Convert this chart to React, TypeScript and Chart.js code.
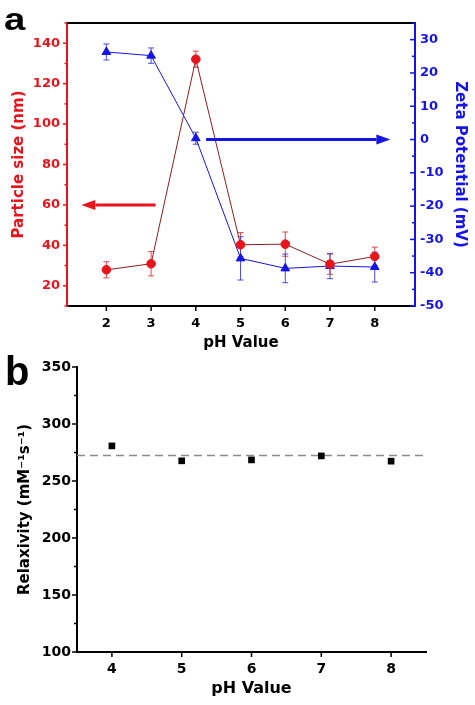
import React, { useEffect, useRef } from 'react';
import { Chart, registerables } from 'chart.js';

Chart.register(...registerables);

// ---------- Panel a data ----------
const pH = [2, 3, 4, 5, 6, 7, 8];
const particleSize = [27.9, 30.9, 132.1, 40.3, 40.6, 30.7, 34.5];
const particleErr = [4, 6, 4, 6, 6, 5, 4.6];
const zetaPotential = [26.3, 25.2, 0.4, -35.7, -38.7, -38.0, -38.3];
const zetaErr = [2.4, 2.3, 1.8, 6.5, 4.3, 3.8, 4.5];
const phTicksA = [2, 3, 4, 5, 6, 7, 8];
const sizeTicks = [20, 40, 60, 80, 100, 120, 140];
const zetaTicks = [-50, -40, -30, -20, -10, 0, 10, 20, 30];
const redArrow = { from: 3.1, to: 1.44, y: 60 };
const blueArrow = { from: 4.23, to: 8.35, y: 0 };

// ---------- Panel b data ----------
const pHb = [4, 5, 6, 7, 8];
const relaxivity = [280.8, 267.7, 268.5, 272.0, 267.4];
const relaxivityMean = 272.3;
const phTicksB = [4, 5, 6, 7, 8];
const relaxTicks = [100, 150, 200, 250, 300, 350];

const FONT = "'DejaVu Sans', sans-serif";
const RED = '#e8141c';
const DARKRED = '#8b1f1f';
const BLUE = '#1414e6';

type TickSpec = {
  id: string;
  edge: 'left' | 'right' | 'bottom';
  dir: 'out' | 'in';
  major: number;
  minor: number;
  color: string;
};

function tickPlugin(specs: TickSpec[]) {
  return {
    id: 'customTicks',
    afterDraw(chart: any) {
      const ctx = chart.ctx;
      const area = chart.chartArea;
      specs.forEach((sp) => {
        const s = chart.scales[sp.id];
        const vals = s.ticks.map((t: any) => t.value);
        const step = vals[1] - vals[0];
        const minors: number[] = [];
        if (sp.minor > 0) {
          for (let v = vals[0] - step / 2; v <= s.max + 1e-9; v += step) {
            if (v >= s.min - 1e-9) minors.push(v);
          }
        }
        ctx.save();
        ctx.strokeStyle = sp.color;
        ctx.lineWidth = 1.5;
        const draw = (v: number, len: number) => {
          const p = s.getPixelForValue(v);
          ctx.beginPath();
          if (sp.edge === 'bottom') {
            const sign = sp.dir === 'out' ? 1 : -1;
            ctx.moveTo(p, area.bottom);
            ctx.lineTo(p, area.bottom + sign * len);
          } else {
            const x = sp.edge === 'left' ? area.left : area.right;
            const outward = sp.edge === 'left' ? -1 : 1;
            const sign = sp.dir === 'out' ? outward : -outward;
            ctx.moveTo(x, p);
            ctx.lineTo(x + sign * len, p);
          }
          ctx.stroke();
        };
        vals.forEach((v: number) => draw(v, sp.major));
        minors.forEach((v) => draw(v, sp.minor));
        ctx.restore();
      });
    },
  };
}

function errorBarPlugin(bars: { index: number; values: number[]; errors: number[]; color: string }[]) {
  return {
    id: 'errorBars',
    beforeDatasetsDraw(chart: any) {
      const ctx = chart.ctx;
      bars.forEach((b) => {
        const meta = chart.getDatasetMeta(b.index);
        const ys = chart.scales[meta.yAxisID];
        ctx.save();
        ctx.strokeStyle = b.color;
        ctx.lineWidth = 1;
        meta.data.forEach((pt: any, j: number) => {
          const x = pt.x;
          const y1 = ys.getPixelForValue(b.values[j] + b.errors[j]);
          const y2 = ys.getPixelForValue(b.values[j] - b.errors[j]);
          ctx.beginPath();
          ctx.moveTo(x, y1);
          ctx.lineTo(x, y2);
          ctx.moveTo(x - 3, y1);
          ctx.lineTo(x + 3, y1);
          ctx.moveTo(x - 3, y2);
          ctx.lineTo(x + 3, y2);
          ctx.stroke();
        });
        ctx.restore();
      });
    },
  };
}

function arrowPlugin(arrows: { from: number; to: number; y: number; axis: string; color: string }[]) {
  return {
    id: 'arrows',
    afterDatasetsDraw(chart: any) {
      const ctx = chart.ctx;
      const xs = chart.scales.x;
      arrows.forEach((a) => {
        const ys = chart.scales[a.axis];
        const x1 = xs.getPixelForValue(a.from);
        const x2 = xs.getPixelForValue(a.to);
        const y = ys.getPixelForValue(a.y);
        const d = x2 > x1 ? 1 : -1;
        const head = 14;
        ctx.save();
        ctx.strokeStyle = a.color;
        ctx.fillStyle = a.color;
        ctx.lineWidth = 3;
        ctx.beginPath();
        ctx.moveTo(x1, y);
        ctx.lineTo(x2 - d * head, y);
        ctx.stroke();
        ctx.beginPath();
        ctx.moveTo(x2, y);
        ctx.lineTo(x2 - d * head, y - 5);
        ctx.lineTo(x2 - d * head, y + 5);
        ctx.closePath();
        ctx.fill();
        ctx.restore();
      });
    },
  };
}

function panelLabel(text: string, x: number, y: number, size: number, sx: number) {
  return {
    id: 'panelLabel',
    afterDraw(chart: any) {
      const ctx = chart.ctx;
      ctx.save();
      ctx.fillStyle = '#000';
      ctx.font = `bold ${size}px 'Liberation Sans', Arial, sans-serif`;
      ctx.textBaseline = 'alphabetic';
      ctx.translate(x, y);
      ctx.scale(sx, 1);
      ctx.fillText(text, 0, 0);
      ctx.restore();
    },
  };
}

const topFrame = {
  id: 'topFrame',
  afterDraw(chart: any) {
    const { ctx, chartArea } = chart;
    ctx.save();
    ctx.strokeStyle = '#000';
    ctx.lineWidth = 2;
    ctx.beginPath();
    ctx.moveTo(chartArea.left, chartArea.top);
    ctx.lineTo(chartArea.right, chartArea.top);
    ctx.stroke();
    ctx.restore();
  },
};

export default function App() {
  const refA = useRef<HTMLCanvasElement>(null);
  const refB = useRef<HTMLCanvasElement>(null);

  useEffect(() => {
    const chartA = new Chart(refA.current as HTMLCanvasElement, {
      type: 'line',
      data: {
        datasets: [
          {
            label: 'Particle size',
            data: pH.map((x, i) => ({ x, y: particleSize[i] })),
            yAxisID: 'y',
            borderColor: DARKRED,
            borderWidth: 1,
            backgroundColor: RED,
            pointBackgroundColor: RED,
            pointBorderColor: RED,
            pointStyle: 'circle',
            pointRadius: 4.3,
            tension: 0,
          },
          {
            label: 'Zeta Potential',
            data: pH.map((x, i) => ({ x, y: zetaPotential[i] })),
            yAxisID: 'y2',
            borderColor: BLUE,
            borderWidth: 1,
            backgroundColor: BLUE,
            pointBackgroundColor: BLUE,
            pointBorderColor: BLUE,
            pointStyle: 'triangle',
            pointRadius: 5,
            tension: 0,
          },
        ],
      },
      options: {
        animation: false,
        responsive: false,
        layout: { padding: { top: 23, left: 0, right: 0, bottom: 0 } },
        plugins: { legend: { display: false }, tooltip: { enabled: false } },
        scales: {
          x: {
            type: 'linear',
            min: 1.12,
            max: 8.9,
            afterBuildTicks: (s: any) => { s.ticks = phTicksA.map((v) => ({ value: v })); },
            afterFit: (s: any) => { s.height = 49; },
            grid: { display: false, drawTicks: false },
            border: { display: true, color: '#000', width: 2 },
            ticks: { color: '#000', font: { family: FONT, weight: 'bold', size: 13 }, padding: 10 },
            title: { display: true, text: 'pH Value', color: '#000', font: { family: FONT, weight: 'bold', size: 15 }, padding: { bottom: 3, top: 0 } },
          },
          y: {
            type: 'linear',
            position: 'left',
            min: 10,
            max: 150,
            afterBuildTicks: (s: any) => { s.ticks = sizeTicks.map((v) => ({ value: v })); },
            afterFit: (s: any) => { s.width = 67; },
            grid: { display: false, drawTicks: false },
            border: { display: true, color: RED, width: 2 },
            ticks: { color: RED, font: { family: FONT, weight: 'bold', size: 13 }, padding: 7 },
            title: { display: true, text: 'Particle size (nm)', color: RED, font: { family: FONT, weight: 'bold', size: 15 }, padding: { top: 10, bottom: 0 } },
          },
          y2: {
            type: 'linear',
            position: 'right',
            min: -50,
            max: 35,
            afterBuildTicks: (s: any) => { s.ticks = zetaTicks.map((v) => ({ value: v })); },
            afterFit: (s: any) => { s.width = 60; },
            grid: { display: false, drawTicks: false },
            border: { display: true, color: BLUE, width: 2 },
            ticks: { color: BLUE, font: { family: FONT, weight: 'bold', size: 13 }, padding: 5 },
            title: { display: true, text: 'Zeta Potential (mV)', color: BLUE, font: { family: FONT, weight: 'bold', size: 15 }, padding: { top: 6, bottom: 0 } },
          },
        },
      } as any,
      plugins: [
        errorBarPlugin([
          { index: 0, values: particleSize, errors: particleErr, color: '#e0474c' },
          { index: 1, values: zetaPotential, errors: zetaErr, color: '#4a4ad0' },
        ]),
        arrowPlugin([
          { ...redArrow, axis: 'y', color: RED },
          { ...blueArrow, axis: 'y2', color: BLUE },
        ]),
        topFrame,
        tickPlugin([
          { id: 'y', edge: 'left', dir: 'out', major: 4, minor: 2.5, color: RED },
          { id: 'y2', edge: 'right', dir: 'in', major: 5, minor: 3, color: BLUE },
          { id: 'x', edge: 'bottom', dir: 'out', major: 5, minor: 0, color: '#000' },
        ]),
        panelLabel('a', 4, 30, 32, 1.2),
      ],
    });

    const chartB = new Chart(refB.current as HTMLCanvasElement, {
      type: 'line',
      data: {
        datasets: [
          {
            label: 'Relaxivity',
            data: pHb.map((x, i) => ({ x, y: relaxivity[i] })),
            showLine: false,
            pointStyle: 'rect',
            pointRadius: 4.7,
            pointBackgroundColor: '#000',
            pointBorderColor: '#000',
            borderWidth: 0,
          },
          {
            label: 'Mean',
            data: [
              { x: 3.5, y: relaxivityMean },
              { x: 8.5, y: relaxivityMean },
            ],
            borderColor: '#8a8a8a',
            borderWidth: 1.5,
            borderDash: [8, 5],
            pointRadius: 0,
          },
        ],
      },
      options: {
        animation: false,
        responsive: false,
        layout: { padding: { top: 27, left: 0, right: 49, bottom: 0 } },
        plugins: { legend: { display: false }, tooltip: { enabled: false } },
        scales: {
          x: {
            type: 'linear',
            min: 3.5,
            max: 8.5,
            afterBuildTicks: (s: any) => { s.ticks = phTicksB.map((v) => ({ value: v })); },
            afterFit: (s: any) => { s.height = 53; },
            grid: { display: false, drawTicks: false },
            border: { display: true, color: '#000', width: 2 },
            ticks: { color: '#000', font: { family: FONT, weight: 'bold', size: 14 }, padding: 9 },
            title: { display: true, text: 'pH Value', color: '#000', font: { family: FONT, weight: 'bold', size: 16 }, padding: { bottom: 7, top: 0 } },
          },
          y: {
            type: 'linear',
            position: 'left',
            min: 100,
            max: 350,
            afterBuildTicks: (s: any) => { s.ticks = relaxTicks.map((v) => ({ value: v })); },
            afterFit: (s: any) => { s.width = 77; },
            grid: { display: false, drawTicks: false },
            border: { display: true, color: '#000', width: 2 },
            ticks: { color: '#000', font: { family: FONT, weight: 'bold', size: 14 }, padding: 6 },
            title: { display: true, text: 'Relaxivity (mM⁻¹s⁻¹)', color: '#000', font: { family: FONT, weight: 'bold', size: 15 }, padding: { top: 16, bottom: 0 } },
          },
        },
      } as any,
      plugins: [
        tickPlugin([
          { id: 'y', edge: 'left', dir: 'out', major: 5, minor: 3, color: '#000' },
          { id: 'x', edge: 'bottom', dir: 'out', major: 5, minor: 0, color: '#000' },
        ]),
        panelLabel('b', 5, 45, 40, 1),
      ],
    });

    return () => {
      chartA.destroy();
      chartB.destroy();
    };
  }, []);

  return (
    <div style={{ position: 'absolute', left: 0, top: 0, width: 475, height: 705, background: '#fff' }}>
      <canvas ref={refA} width={475} height={355} style={{ position: 'absolute', left: 0, top: 0, width: 475, height: 355 }} />
      <canvas ref={refB} width={475} height={365} style={{ position: 'absolute', left: 0, top: 340, width: 475, height: 365 }} />
    </div>
  );
}
